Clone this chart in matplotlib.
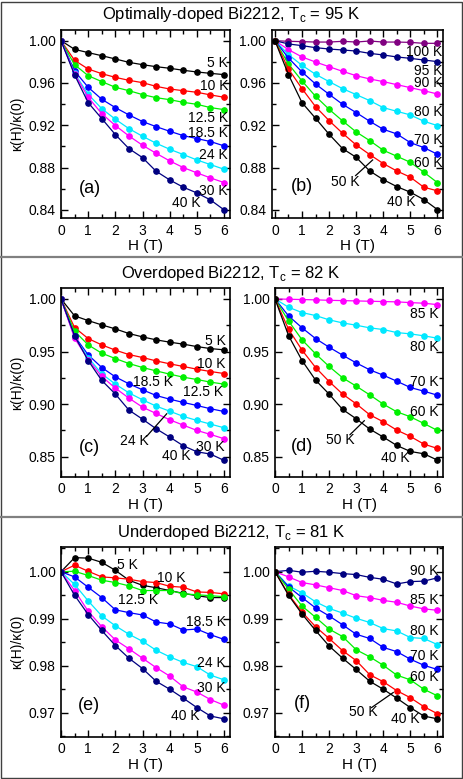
import numpy as np
import matplotlib
matplotlib.use("Agg")
import matplotlib.pyplot as plt
from matplotlib.ticker import MultipleLocator
from matplotlib.lines import Line2D
from matplotlib.patches import Rectangle

plt.rcParams['font.family'] = ['Liberation Sans', 'DejaVu Sans']
plt.rcParams['mathtext.fontset'] = 'custom'
plt.rcParams['mathtext.rm'] = 'Liberation Sans'

H = [0, 0.5, 1, 1.5, 2, 2.5, 3, 3.5, 4, 4.5, 5, 5.5, 6]

# colours
BLK, RED, GRN, BLU, CYN, MAG, NAV, PUR = ("black", "#ff0000", "#00f000", "#0000ff",
                                          "#00e8ff", "#ff00ff", "#000080", "#800080")

# ---- (a) optimally doped, low T
a_5 = [1.0, 0.9918, 0.9887, 0.9858, 0.9827, 0.9795, 0.9773, 0.9754, 0.9739, 0.972, 0.9704, 0.9691, 0.9679]
a_10 = [1.0, 0.9814, 0.9732, 0.9688, 0.9653, 0.9625, 0.9603, 0.9568, 0.9543, 0.9527, 0.9512, 0.9487, 0.9465]
a_125 = [1.0, 0.9773, 0.9669, 0.9613, 0.9559, 0.9527, 0.949, 0.9461, 0.9442, 0.9417, 0.9398, 0.9367, 0.9348]
a_185 = [1.0, 0.9713, 0.9559, 0.9446, 0.9367, 0.9298, 0.9235, 0.9187, 0.9143, 0.9102, 0.9074, 0.9046, 0.9005]
a_24 = [1.0, 0.9691, 0.9493, 0.9357, 0.9257, 0.9168, 0.9096, 0.903, 0.8973, 0.8923, 0.8872, 0.8828, 0.8784]
a_30 = [1.0, 0.9685, 0.9465, 0.931, 0.9197, 0.9099, 0.9011, 0.8935, 0.8863, 0.88, 0.875, 0.8702, 0.8658]
a_40 = [1.0, 0.9676, 0.9414, 0.9263, 0.9112, 0.8979, 0.8894, 0.8765, 0.8683, 0.8614, 0.856, 0.8494, 0.84]

# ---- (b) optimally doped, high T
b_100 = [1.0, 0.9994, 0.9991, 0.9987, 0.9987, 0.9994, 0.9987, 0.9997, 0.9987, 0.9987, 0.9984, 0.9975, 0.9975]
b_95 = [1.0, 0.9969, 0.9953, 0.9934, 0.9921, 0.9912, 0.9902, 0.988, 0.9865, 0.9846, 0.9833, 0.9817, 0.9802]
b_90 = [1.0, 0.9915, 0.9846, 0.9798, 0.9754, 0.971, 0.9669, 0.9638, 0.9613, 0.9584, 0.9556, 0.9527, 0.9496]
b_80 = [1.0, 0.9868, 0.9767, 0.9682, 0.9613, 0.9546, 0.949, 0.9433, 0.9367, 0.9332, 0.9298, 0.9238, 0.9197]
b_70 = [1.0, 0.9836, 0.9704, 0.959, 0.9493, 0.9398, 0.932, 0.9238, 0.9162, 0.9118, 0.9036, 0.8989, 0.8926]
b_60 = [1.0, 0.978, 0.9619, 0.9474, 0.9351, 0.9241, 0.9137, 0.9055, 0.8964, 0.8907, 0.885, 0.8756, 0.8658]
b_50 = [1.0, 0.9732, 0.9546, 0.9376, 0.9244, 0.9124, 0.9014, 0.8923, 0.8838, 0.8768, 0.8709, 0.8614, 0.858]
b_40 = [1.0, 0.9679, 0.9414, 0.9266, 0.9115, 0.8979, 0.8897, 0.8768, 0.8686, 0.862, 0.8567, 0.8497, 0.8403]

# ---- (c) overdoped, low T
c_5 = [1.0, 0.9839, 0.9794, 0.9753, 0.9715, 0.9671, 0.9639, 0.9611, 0.9589, 0.957, 0.9547, 0.9528, 0.9516]
c_10 = [1.0, 0.9728, 0.9623, 0.9563, 0.9513, 0.9471, 0.9443, 0.9411, 0.9383, 0.9358, 0.9332, 0.931, 0.9291]
c_125 = [1.0, 0.9693, 0.9563, 0.9484, 0.9433, 0.9386, 0.9348, 0.9316, 0.9285, 0.9256, 0.9234, 0.9209, 0.919]
c_185 = [1.0, 0.9646, 0.9468, 0.9348, 0.9259, 0.9193, 0.9136, 0.9082, 0.9047, 0.9016, 0.8987, 0.8956, 0.893]
c_24 = [1.0, 0.9636, 0.9443, 0.9288, 0.919, 0.9107, 0.9041, 0.8981, 0.8933, 0.8883, 0.8845, 0.881, 0.8775]
c_30 = [1.0, 0.9627, 0.9424, 0.9263, 0.9152, 0.9057, 0.8971, 0.8911, 0.8851, 0.88, 0.875, 0.8712, 0.8671]
c_40 = [1.0, 0.9649, 0.9414, 0.9225, 0.9096, 0.8943, 0.8857, 0.8766, 0.8687, 0.8604, 0.8547, 0.8525, 0.8465]

# ---- (d) overdoped, high T
d_85 = [1.0, 0.9997, 0.9994, 0.9991, 0.9987, 0.9984, 0.9981, 0.9978, 0.9975, 0.9972, 0.9965, 0.9959, 0.9946]
d_80 = [1.0, 0.9921, 0.987, 0.9842, 0.9801, 0.9772, 0.975, 0.9725, 0.9709, 0.968, 0.9668, 0.9649, 0.9627]
d_70 = [1.0, 0.9839, 0.9725, 0.9623, 0.9541, 0.9465, 0.9392, 0.9326, 0.9275, 0.9218, 0.9158, 0.9123, 0.9085]
d_60 = [1.0, 0.9791, 0.9611, 0.9478, 0.9358, 0.925, 0.9171, 0.9088, 0.9, 0.8927, 0.888, 0.8816, 0.875]
d_50 = [1.0, 0.9712, 0.9513, 0.9348, 0.9215, 0.9095, 0.9003, 0.8899, 0.8832, 0.8753, 0.8693, 0.862, 0.8579]
d_40 = [1.0, 0.9652, 0.9414, 0.9228, 0.9095, 0.8949, 0.8861, 0.8763, 0.8687, 0.8607, 0.855, 0.8528, 0.8468]

# ---- (e) underdoped, low T
e_5 = [1.0, 1.003, 1.0029, 1.002, 1.0003, 0.9982, 0.9971, 0.9966, 0.996, 0.9954, 0.9949, 0.9945, 0.9945]
e_10 = [1.0, 1.0014, 1.0001, 0.9989, 0.9987, 0.9984, 0.9979, 0.9977, 0.9969, 0.9967, 0.9957, 0.9956, 0.9953]
e_125 = [1.0, 1.0001, 0.9992, 0.9982, 0.9977, 0.997, 0.996, 0.996, 0.996, 0.9953, 0.9951, 0.9949, 0.9947]
e_185 = [1.0, 0.9989, 0.9967, 0.9945, 0.9919, 0.9913, 0.9908, 0.9893, 0.9889, 0.9876, 0.9878, 0.9866, 0.9856]
e_24 = [1.0, 0.9973, 0.9938, 0.9906, 0.9885, 0.9867, 0.9852, 0.9833, 0.9819, 0.9807, 0.9798, 0.978, 0.977]
e_30 = [1.0, 0.996, 0.9916, 0.9883, 0.9855, 0.9836, 0.9816, 0.9796, 0.9778, 0.9755, 0.9744, 0.9728, 0.9716]
e_40 = [1.0, 0.995, 0.9909, 0.9875, 0.9843, 0.9816, 0.9794, 0.9767, 0.975, 0.9731, 0.9711, 0.9693, 0.9687]

# ---- (f) underdoped, high T
f_90 = [1.0, 1.0003, 0.9999, 1.0001, 0.9999, 0.9996, 0.9994, 0.9988, 0.9984, 0.9974, 0.9979, 0.998, 0.9987]
f_85 = [1.0, 0.9989, 0.9977, 0.9972, 0.9966, 0.996, 0.9949, 0.9945, 0.9939, 0.9935, 0.9927, 0.9921, 0.9918]
f_80 = [1.0, 0.997, 0.9955, 0.9936, 0.9922, 0.9912, 0.9901, 0.9892, 0.9879, 0.9874, 0.986, 0.9858, 0.9845]
f_70 = [1.0, 0.9968, 0.9945, 0.9923, 0.9906, 0.9887, 0.9867, 0.9858, 0.9839, 0.983, 0.9814, 0.9801, 0.9792]
f_60 = [1.0, 0.9963, 0.9927, 0.9903, 0.9878, 0.9862, 0.9834, 0.9819, 0.9801, 0.978, 0.977, 0.975, 0.9736]
f_50 = [1.0, 0.9952, 0.9914, 0.9883, 0.9858, 0.9832, 0.9811, 0.9781, 0.9766, 0.9747, 0.9732, 0.9713, 0.9698]
f_40 = [1.0, 0.995, 0.991, 0.9875, 0.9842, 0.9816, 0.9792, 0.9767, 0.975, 0.9731, 0.9711, 0.9693, 0.9687]

titles = ["Optimally-doped Bi2212, T$_\\mathregular{c}$ = 95 K",
          "Overdoped Bi2212, T$_\\mathregular{c}$ = 82 K",
          "Underdoped Bi2212, T$_\\mathregular{c}$ = 81 K"]

W, Hpx = 463, 779
fig = plt.figure(figsize=(W / 100, Hpx / 100), dpi=100)


def ax_at(l, t, r, b):
    return fig.add_axes([l / W, 1 - b / Hpx, (r - l) / W, (b - t) / Hpx])


def style(ax, xlim, ylim, major, minor, fmt, ylabel=True):
    ax.set_xlim(*xlim)
    ax.set_ylim(*ylim)
    ax.xaxis.set_major_locator(MultipleLocator(1))
    ax.xaxis.set_minor_locator(MultipleLocator(0.5))
    ax.yaxis.set_major_locator(MultipleLocator(major))
    ax.yaxis.set_minor_locator(MultipleLocator(minor))
    ax.yaxis.set_major_formatter(plt.FormatStrFormatter(fmt))
    ax.tick_params(which="both", direction="in", top=True, right=True, labelsize=10, width=1)
    ax.tick_params(which="major", length=5, pad=4)
    ax.tick_params(which="minor", length=3)
    for s in ax.spines.values():
        s.set_linewidth(1.2)
    ax.set_xlabel("H (T)", fontsize=11, labelpad=1)
    if ylabel:
        ax.set_ylabel("κ(H)/κ(0)", fontsize=10, labelpad=3)


def curves(ax, sets):
    for y, c in sets:
        ax.plot(H, y, "-o", color=c, lw=0.9, ms=3.8, mec=c)


def lab(ax, x, y, s, ha="right"):
    ax.text(x, y, s, fontsize=10, ha=ha, va="center")


# row 1
ax = ax_at(61, 30, 230, 218.3)
curves(ax, [(a_5, BLK), (a_10, RED), (a_125, GRN), (a_185, BLU), (a_24, CYN), (a_30, MAG), (a_40, NAV)])
style(ax, (0, 6.22), (0.832, 1.0101), 0.04, 0.02, "%.2f")
for x, y, s in [(6.15, 0.9786, "5 K"), (6.15, 0.9572, "10 K"), (6.15, 0.9266, "12.5 K"),
                (6.15, 0.913, "18.5 K"), (6.15, 0.892, "24 K"), (6.15, 0.8582, "30 K")]:
    lab(ax, x, y, s)
lab(ax, 4.63, 0.8463, "40 K", "center")
ax.text(1.07, 0.8605, "(a)", fontsize=13, ha="center", va="center")

ax = ax_at(271.7, 30, 443.3, 218.3)
curves(ax, [(b_100, PUR), (b_95, NAV), (b_90, MAG), (b_80, CYN), (b_70, BLU), (b_60, GRN), (b_50, RED), (b_40, BLK)])
style(ax, (-0.12, 6.22), (0.832, 1.0101), 0.04, 0.02, "%.2f", ylabel=False)
for x, y, s in [(6.18, 0.989, "100 K"), (6.18, 0.9717, "95 K"), (6.18, 0.9597, "90 K"),
                (6.18, 0.9323, "80 K"), (6.18, 0.9061, "70 K"), (6.18, 0.8841, "60 K")]:
    lab(ax, x, y, s)
lab(ax, 2.61, 0.8667, "50 K", "center")
ax.plot([2.98, 3.61], [0.8724, 0.8872], color="black", lw=0.9)
lab(ax, 4.68, 0.8472, "40 K", "center")
ax.text(1.01, 0.862, "(b)", fontsize=13, ha="center", va="center")

# row 2
ax = ax_at(61, 288.3, 230, 476.7)
curves(ax, [(c_5, BLK), (c_10, RED), (c_125, GRN), (c_185, BLU), (c_24, CYN), (c_30, MAG), (c_40, NAV)])
style(ax, (0, 6.22), (0.831, 1.0101), 0.05, 0.025, "%.2f")
for x, y, s in [(6.05, 0.9601, "5 K"), (6.05, 0.9386, "10 K"), (5.98, 0.9114, "12.5 K"),
                (6.02, 0.8592, "30 K")]:
    lab(ax, x, y, s)
lab(ax, 3.37, 0.9212, "18.5 K", "center")
lab(ax, 2.7, 0.8645, "24 K", "center")
ax.plot([3.15, 3.89], [0.8693, 0.8908], color="black", lw=0.9)
lab(ax, 4.26, 0.8506, "40 K", "center")
ax.text(1.04, 0.8588, "(c)", fontsize=13, ha="center", va="center")

ax = ax_at(275, 288.3, 443.3, 476.7)
curves(ax, [(d_85, MAG), (d_80, CYN), (d_70, BLU), (d_60, GRN), (d_50, RED), (d_40, BLK)])
style(ax, (0, 6.22), (0.831, 1.0101), 0.05, 0.025, "%.2f", ylabel=False)
for x, y, s in [(6.03, 0.9854, "85 K"), (6.03, 0.9547, "80 K"), (6.03, 0.9212, "70 K"),
                (6.03, 0.8927, "60 K")]:
    lab(ax, x, y, s)
lab(ax, 2.4, 0.8655, "50 K", "center")
ax.plot([2.77, 3.3], [0.8709, 0.8842], color="black", lw=0.9)
lab(ax, 4.46, 0.8487, "40 K", "center")
ax.text(1.01, 0.8598, "(d)", fontsize=13, ha="center", va="center")

# row 3
ax = ax_at(61, 547.3, 230, 736.7)
curves(ax, [(e_5, BLK), (e_10, RED), (e_125, GRN), (e_185, BLU), (e_24, CYN), (e_30, MAG), (e_40, NAV)])
style(ax, (0, 6.22), (0.9649, 1.0052), 0.01, 0.005, "%.2f")
lab(ax, 2.44, 1.0014, "5 K", "center")
lab(ax, 4.04, 0.9986, "10 K", "center")
lab(ax, 2.82, 0.994, "12.5 K", "center")
for x, y, s in [(6.06, 0.9892, "18.5 K"), (6.06, 0.9805, "24 K"), (6.06, 0.9752, "30 K")]:
    lab(ax, x, y, s)
lab(ax, 4.59, 0.9694, "40 K", "center")
ax.text(1.04, 0.9716, "(e)", fontsize=13, ha="center", va="center")

ax = ax_at(275, 547.3, 443.3, 736.7)
curves(ax, [(f_90, NAV), (f_85, MAG), (f_80, CYN), (f_70, BLU), (f_60, GRN), (f_50, RED), (f_40, BLK)])
style(ax, (0, 6.22), (0.9649, 1.0052), 0.01, 0.005, "%.2f", ylabel=False)
for x, y, s in [(6.03, 1.0002, "90 K"), (6.03, 0.994, "85 K"), (6.03, 0.9874, "80 K"),
                (6.03, 0.9821, "70 K"), (6.03, 0.9775, "60 K")]:
    lab(ax, x, y, s)
lab(ax, 3.26, 0.9701, "50 K", "center")
ax.plot([3.57, 4.37], [0.9711, 0.9743], color="black", lw=0.9)
lab(ax, 4.8, 0.9687, "40 K", "center")
ax.text(1.01, 0.972, "(f)", fontsize=13, ha="center", va="center")

# section titles, separators and frame
for t, ypx in zip(titles, [14, 273, 533]):
    fig.text(231 / W, 1 - ypx / Hpx, t, fontsize=12, ha="center", va="center")
for ypx in [257, 517]:
    fig.add_artist(Line2D([0, 1], [1 - ypx / Hpx] * 2, color="#808080", lw=1.6))
fig.add_artist(Rectangle((1 / W, 1 / Hpx), (W - 2.5) / W, (Hpx - 2.5) / Hpx, fill=False,
                         edgecolor="#404040", lw=1))

fig.savefig("out.png", dpi=100)
